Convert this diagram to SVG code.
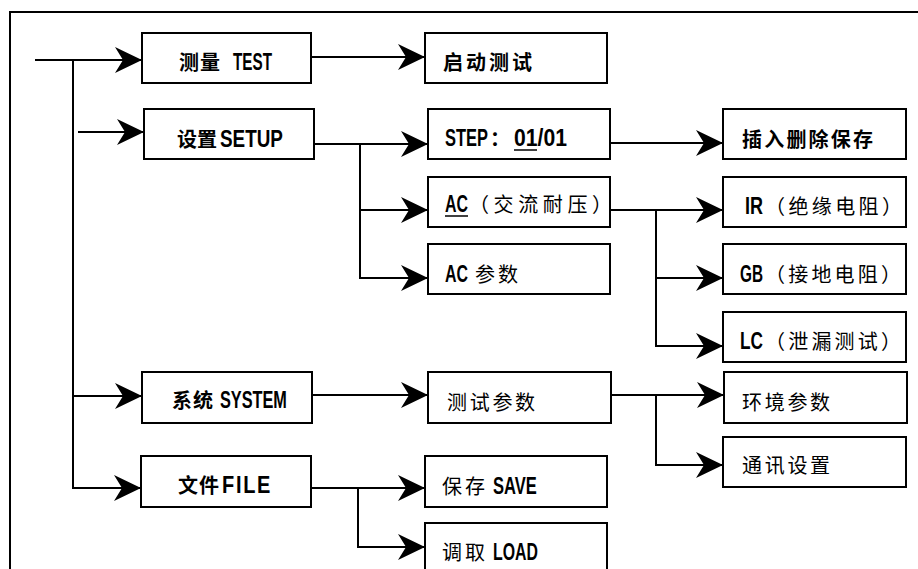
<svg xmlns="http://www.w3.org/2000/svg" width="918" height="569" viewBox="0 0 918 569">
<style>
.box{fill:#fff;stroke:#000;stroke-width:2}
.cb{font-family:"Noto Sans CJK SC",sans-serif;font-weight:bold;font-size:20px;fill:#000}
.cl{font-family:"Noto Sans CJK SC",sans-serif;font-weight:normal;font-size:20px;fill:#000}
.lb{font-family:"Liberation Sans",Arial,sans-serif;font-weight:bold;font-size:23.5px;fill:#000}
.ul{stroke:#000;stroke-width:1.5}
</style>
<defs>
<marker id="arr" markerUnits="userSpaceOnUse" viewBox="-28 -14 29 28" refX="0" refY="0" markerWidth="29" markerHeight="28" orient="auto">
<path d="M0,0 L-27,-13 L-19,0 L-27,13 Z" fill="#000"/>
</marker>
</defs>
<rect width="918" height="569" fill="#fff"/>
<path d="M10,569 V12 H918" fill="none" stroke="#000" stroke-width="2"/>
<g id="connectors" fill="none" stroke="#000" stroke-width="2" marker-end="url(#arr)">
<path d="M35,60 H142"/>
<path d="M73,60 V488 H141"/>
<path d="M78,132 H144"/>
<path d="M73,396 H142"/>
<path d="M311,57 H425"/>
<path d="M314,144 H428"/>
<path d="M360,144 V278 H428"/>
<path d="M360,210 H428"/>
<path d="M610,143 H723"/>
<path d="M610,210 H723"/>
<path d="M656,210 V346 H723"/>
<path d="M656,278 H723"/>
<path d="M312,395 H428"/>
<path d="M611,395 H724"/>
<path d="M656,395 V465 H723"/>
<path d="M311,488 H425"/>
<path d="M358,488 V547 H425"/>
</g>
<g id="n-test"><rect class="box" x="142" y="33" width="169" height="50"/>
<text class="cb" x="179" y="70" letter-spacing="1">测量</text>
<text class="lb" transform="translate(233,70) scale(0.649,1)">TEST</text></g>
<g id="n-start"><rect class="box" x="425" y="33" width="182" height="50"/>
<text class="cb" x="443" y="70" letter-spacing="3">启动测试</text></g>
<g id="n-setup"><rect class="box" x="144" y="109" width="170" height="50"/>
<text class="cb" x="177" y="147">设置</text>
<text class="lb" transform="translate(220,147) scale(0.804,1)">SETUP</text></g>
<g id="n-step"><rect class="box" x="428" y="109" width="182" height="50"/>
<text class="lb" transform="translate(445,146) scale(0.70,1)">STEP</text>
<text class="cb" x="490" y="146">：</text>
<text class="lb" transform="translate(514,146) scale(0.901,1)">01/01</text>
<line class="ul" x1="514" y1="150" x2="537" y2="150"/></g>
<g id="n-insert"><rect class="box" x="723" y="109" width="183" height="50"/>
<text class="cb" x="742" y="147" letter-spacing="2.2">插入删除保存</text></g>
<g id="n-ac"><rect class="box" x="428" y="177" width="182" height="50"/>
<text class="lb" transform="translate(445,212) scale(0.678,1)">AC</text>
<line class="ul" x1="445" y1="216" x2="468" y2="216"/>
<text class="cl" x="469" y="212" letter-spacing="4.6">（交流耐压）</text></g>
<g id="n-acparam"><rect class="box" x="428" y="244" width="182" height="50"/>
<text class="lb" transform="translate(445,282) scale(0.678,1)">AC</text>
<text class="cl" x="475" y="282" letter-spacing="3">参数</text></g>
<g id="n-ir"><rect class="box" x="723" y="177" width="183" height="50"/>
<text class="lb" transform="translate(745,214) scale(0.766,1)">IR</text>
<text class="cl" x="765" y="214" letter-spacing="3.4">（绝缘电阻）</text></g>
<g id="n-gb"><rect class="box" x="723" y="244" width="183" height="50"/>
<text class="lb" transform="translate(740,282) scale(0.652,1)">GB</text>
<text class="cl" x="765" y="282" letter-spacing="3.2">（接地电阻）</text></g>
<g id="n-lc"><rect class="box" x="723" y="312" width="183" height="50"/>
<text class="lb" transform="translate(740,349) scale(0.734,1)">LC</text>
<text class="cl" x="765" y="349" letter-spacing="3.2">（泄漏测试）</text></g>
<g id="n-system"><rect class="box" x="142" y="372" width="170" height="51"/>
<text class="cb" x="172" y="408" letter-spacing="1">系统</text>
<text class="lb" transform="translate(220,408) scale(0.693,1)">SYSTEM</text></g>
<g id="n-testparam"><rect class="box" x="428" y="372" width="183" height="51"/>
<text class="cl" x="447" y="410" letter-spacing="2.7">测试参数</text></g>
<g id="n-env"><rect class="box" x="724" y="372" width="183" height="51"/>
<text class="cl" x="742" y="410" letter-spacing="2.7">环境参数</text></g>
<g id="n-comm"><rect class="box" x="723" y="437" width="183" height="50"/>
<text class="cl" x="742" y="473" letter-spacing="2.7">通讯设置</text></g>
<g id="n-file"><rect class="box" x="141" y="456" width="170" height="51"/>
<text class="cb" x="178" y="493" letter-spacing="1">文件</text>
<text class="lb" transform="translate(222,493) scale(0.85,1)" letter-spacing="2">FILE</text></g>
<g id="n-save"><rect class="box" x="425" y="456" width="182" height="51"/>
<text class="cl" x="442" y="494" letter-spacing="3">保存</text>
<text class="lb" transform="translate(493,494) scale(0.703,1)">SAVE</text></g>
<g id="n-load"><rect class="box" x="425" y="523" width="182" height="52"/>
<text class="cl" x="442" y="560" letter-spacing="3">调取</text>
<text class="lb" transform="translate(493,560) scale(0.676,1)">LOAD</text></g>
</svg>
